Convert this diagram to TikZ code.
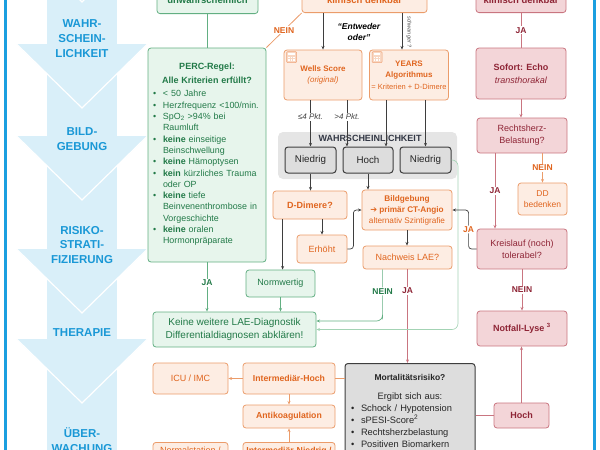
\documentclass[tikz,border=0pt]{standalone}
\usepackage{fontspec}
\setmainfont{Liberation Sans}
\newfontfamily\symfont{DejaVu Sans}
\usetikzlibrary{arrows.meta}

\definecolor{bandblue}{HTML}{D9EFF9}
\definecolor{lineblue}{HTML}{1B9FE0}
\definecolor{phaseblue}{HTML}{1A98D6}
\definecolor{gfill}{HTML}{E7F5EC}
\definecolor{gdraw}{HTML}{62AF82}
\definecolor{gtext}{HTML}{227A48}
\definecolor{glight}{HTML}{A3D3B4}
\definecolor{ofill}{HTML}{FDEDE3}
\definecolor{odraw}{HTML}{EB9C6A}
\definecolor{otext}{HTML}{E0651F}
\definecolor{rfill}{HTML}{F3D5D8}
\definecolor{rdraw}{HTML}{C97580}
\definecolor{rtext}{HTML}{8E2435}
\definecolor{kfill}{HTML}{DDDDDD}
\definecolor{kdraw}{HTML}{3E3E3E}
\definecolor{kregion}{HTML}{E5E5E5}
\definecolor{ktext}{HTML}{333845}
\definecolor{iconc}{HTML}{F0A57A}

% bullet line (single lines only)
\newcommand{\bitem}{\par\noindent\makebox[10pt][l]{\textbullet}}
% small calculator sign in a box corner
\newcommand{\calcicon}[1]{%
  \begin{scope}[shift={([xshift=3pt,yshift=-2pt]#1)}]
    \draw[iconc, fill=iconc!45, rounded corners=1pt, line width=0.5pt] (0,0) rectangle (10,11);
    \fill[white] (1.8,1.6) rectangle (8.2,3.8);
    \foreach \i in {0,1,2} \foreach \j in {0,1}
      \fill[white] (1.8+\i*2.4,5.3+\j*2.4) rectangle ++(1.6,1.5);
  \end{scope}}

\tikzset{
  box/.style={draw, rounded corners=3pt, line width=0.8pt, align=center, inner sep=2pt,
    font=\fontsize{9}{11}\selectfont},
  gbox/.style={box, draw=gdraw, fill=gfill, text=gtext},
  obox/.style={box, draw=odraw, fill=ofill, text=otext},
  rbox/.style={box, draw=rdraw, fill=rfill, text=rtext},
  kbox/.style={box, draw=kdraw, fill=kfill, text=black!85, line width=1pt},
  arr/.style={-{Stealth[length=3.6pt,width=3pt]}, line width=0.7pt},
  kline/.style={arr, draw=kdraw},
  gline/.style={arr, draw=gdraw},
  oline/.style={arr, draw=odraw},
  rline/.style={arr, draw=rdraw},
  yesno/.style={fill=white, inner sep=1pt, font=\fontsize{8.5}{10}\selectfont\bfseries},
  pkt/.style={fill=white, inner sep=1pt, text=black!75, font=\fontsize{8}{10}\selectfont\itshape},
  phase/.style={text=phaseblue, align=center, font=\fontsize{11.5}{14.8}\selectfont\bfseries},
}

\begin{document}
\begin{tikzpicture}[x=1pt, y=-1pt]
  \useasboundingbox (0,0) rectangle (600,450);
  \clip (0,0) rectangle (600,450);

  % phase band on the left
  \fill[bandblue] (47,-20) rectangle (117,470);
  \foreach \tip in {2,108,200,313,403,520}{
    \fill[bandblue] (16.5,\tip-64) -- (147.5,\tip-64) -- (82,\tip) -- cycle;
    \draw[white, line width=1.2pt] (16.5,\tip-64) -- (82,\tip) -- (147.5,\tip-64);
  }
  \draw[lineblue, line width=3pt] (5.5,-10) -- (5.5,460);
  \draw[lineblue, line width=3.5pt] (594.5,-10) -- (594.5,460);

  \node[phase] (ph1) at (82,38.5) {WAHR-\\SCHEIN-\\LICHKEIT};
  \node[phase] (ph2) at (82,139) {BILD-\\GEBUNG};
  \node[phase] (ph3) at (82,245) {RISIKO-\\STRATI-\\FIZIERUNG};
  \node[phase] (ph4) at (82,333) {THERAPIE};
  \node[phase] (ph5) at (82,440) {ÜBER-\\WACHUNG};

  % boxes cut by the upper edge
  \node[gbox, anchor=south, minimum width=101pt, inner ysep=10pt, font=\fontsize{9.5}{11}\selectfont\bfseries] (unw) at (207.5,14) {unwahrscheinlich};
  \node[obox, anchor=south, minimum width=125pt, inner ysep=9pt, font=\fontsize{9.5}{11}\selectfont\bfseries] (kden) at (364.5,13) {klinisch denkbar};
  \node[rbox, anchor=south, minimum width=90pt, inner ysep=9pt, font=\fontsize{9.5}{11}\selectfont\bfseries] (rden) at (521,13) {klinisch denkbar};

  % green column
  \node[gbox, minimum width=118pt, minimum height=214pt, text width=108pt, align=center, font=\fontsize{8.9}{11.3}\selectfont] (perc) at (207,155) {%
    {\bfseries\fontsize{9}{11.3}\selectfont PERC-Regel:\\[2.7pt]Alle Kriterien erfüllt?\par}\vspace{4.7pt}
    \begin{tabular}{@{}p{10pt}@{}p{98pt}@{}}
      \textbullet & < 50 Jahre\\
      \textbullet & Herzfrequenz <100/min.\\
      \textbullet & SpO\textsubscript{2} >94\% bei\\
                  & Raumluft\\
      \textbullet & \textbf{keine} einseitige\\
                  & Beinschwellung\\
      \textbullet & \textbf{keine} Hämoptysen\\
      \textbullet & \textbf{kein} kürzliches Trauma\\
                  & oder OP\\
      \textbullet & \textbf{keine} tiefe\\
                  & Beinvenenthrombose in\\
                  & Vorgeschichte\\
      \textbullet & \textbf{keine} oralen\\
                  & Hormonpräparate
    \end{tabular}};
  \node[gbox, minimum width=69pt, minimum height=27pt] (normw) at (280.5,283.5) {Normwertig};
  \node[gbox, minimum width=163pt, minimum height=35pt, font=\fontsize{10}{13}\selectfont] (keine) at (234.5,329.5) {Keine weitere LAE-Diagnostik\\Differentialdiagnosen abklären!};

  % orange boxes
  \node[obox, minimum width=78pt, minimum height=50pt, font=\fontsize{8}{11}\selectfont] (wells) at (323,75) {\textbf{Wells Score}\\\textit{(original)}};
  \node[obox, minimum width=78pt, minimum height=50pt, font=\fontsize{8}{11.5}\selectfont] (years) at (409,75) {\textbf{YEARS}\\\textbf{Algorithmus}\\{\fontsize{7.5}{9}\selectfont = Kriterien + D-Dimere}};
  \calcicon{wells.north west}
  \calcicon{years.north west}
  \node[obox, minimum width=74pt, minimum height=28pt, font=\fontsize{9}{11}\selectfont\bfseries] (ddim) at (310,205) {D-Dimere?};
  \node[obox, minimum width=50pt, minimum height=28pt] (erh) at (322,249) {Erhöht};
  \node[obox, minimum width=90pt, minimum height=40pt, font=\fontsize{8.2}{11}\selectfont] (bild) at (407,210) {\textbf{Bildgebung}\\\textbf{{\symfont ➔} primär CT-Angio}\\alternativ Szintigrafie};
  \node[obox, minimum width=89pt, minimum height=23pt] (nachw) at (407.5,257.5) {Nachweis LAE?};
  \node[obox, minimum width=49pt, minimum height=32pt, font=\fontsize{8.5}{11}\selectfont] (ddbed) at (542.5,199) {DD\\bedenken};
  \node[obox, minimum width=75pt, minimum height=31pt] (icu) at (190.5,378.5) {ICU / IMC};
  \node[obox, minimum width=92pt, minimum height=31pt, font=\fontsize{8.7}{11}\selectfont\bfseries] (ihoch) at (289,378.5) {Intermediär-Hoch};
  \node[obox, minimum width=92pt, minimum height=23pt, font=\fontsize{8.7}{11}\selectfont\bfseries] (antik) at (289,416.5) {Antikoagulation};
  \node[obox, anchor=north, minimum width=92pt, inner ysep=5pt, font=\fontsize{8.7}{11}\selectfont\bfseries] (iniedr) at (289,442) {Intermediär-Niedrig /};
  \node[obox, anchor=north, minimum width=75pt, inner ysep=5pt] (normst) at (190.5,442) {Normalstation /};

  % red column
  \node[rbox, minimum width=90pt, minimum height=51pt, font=\fontsize{9}{13}\selectfont] (sofort) at (521,73.5) {\textbf{Sofort: Echo}\\\textit{transthorakal}};
  \node[rbox, minimum width=90pt, minimum height=35pt, font=\fontsize{9}{12}\selectfont] (rherz) at (522,135.5) {Rechtsherz-\\Belastung?};
  \node[rbox, minimum width=90pt, minimum height=40pt, font=\fontsize{9}{12}\selectfont] (kreis) at (522,249) {Kreislauf (noch)\\tolerabel?};
  \node[rbox, minimum width=90pt, minimum height=35pt, font=\fontsize{9}{11}\selectfont\bfseries] (lyse) at (522,328.5) {Notfall-Lyse \textsuperscript{3}};
  \node[rbox, minimum width=55pt, minimum height=25pt, font=\fontsize{9}{11}\selectfont\bfseries] (rhoch) at (521.5,415.5) {Hoch};

  % gray boxes
  \node[fill=kregion, rounded corners=5pt, minimum width=179pt, minimum height=47pt] (wgrp) at (367.5,155.5) {};
  \node[text=ktext, font=\fontsize{9}{11}\selectfont\bfseries] (wlbl) at (370,138) {WAHRSCHEINLICHKEIT};
  \node[kbox, minimum width=51pt, minimum height=26pt, font=\fontsize{9.8}{11}\selectfont] (nieda) at (310.5,160) {Niedrig};
  \node[kbox, minimum width=50pt, minimum height=26pt, font=\fontsize{9.8}{11}\selectfont] (hoch) at (368,160) {Hoch};
  \node[kbox, minimum width=51pt, minimum height=26pt, font=\fontsize{9.8}{11}\selectfont] (niedb) at (425.5,160) {Niedrig};
  \node[kbox, anchor=north, text width=118pt, inner xsep=6pt, inner ysep=11pt, font=\fontsize{9.3}{12}\selectfont] (mort) at (410,363) {%
    {\fontsize{8.5}{10}\selectfont\bfseries Mortalitätsrisiko?}\par\vspace{7pt}
    Ergibt sich aus:\par
    {\raggedright
    \bitem Schock / Hypotension
    \bitem sPESI-Score\textsuperscript{2}
    \bitem Rechtsherzbelastung
    \bitem Positiven Biomarkern\par}};

  % connectors, left part
  \draw[gdraw, line width=0.8pt] (unw.south) -- (unw.south |- perc.north);
  \draw[gline] (perc.south) -- node[yesno, text=gtext, pos=.42]{JA} (perc.south |- keine.north);
  \draw[odraw, line width=0.8pt] (kden.south west) -- node[yesno, text=otext]{NEIN} (perc.north east);

  % connectors, scores
  \draw[kline] (wells.north |- kden.south) -- (wells.north);
  \draw[kline] ([xshift=-7pt]years.north |- kden.south) -- ([xshift=-7pt]years.north);
  \node[rotate=-90, inner sep=0pt, text=black!70, font=\fontsize{5.5}{6}\selectfont\itshape] (schw) at (409,32) {schwanger ?};
  \node[align=center, font=\fontsize{8.5}{11}\selectfont\bfseries\itshape] (eo) at (359,32) {“Entweder\\oder”};
  \draw[kline] (wells.south -| nieda.north) -- node[pkt, pos=.36]{≤4 Pkt.} (nieda.north);
  \draw[kline] ([xshift=24pt]wells.south) -- node[pkt, pos=.36]{>4 Pkt.} ([xshift=24pt]wells.south |- hoch.north);
  \draw[kline] ([xshift=-23pt]years.south) -- ([xshift=-23pt]years.south |- hoch.north);
  \draw[kline] (years.south -| niedb.north) -- (niedb.north);

  % connectors, imaging
  \draw[kline] (nieda.south) -- (nieda.south |- ddim.north);
  \draw[kline] (hoch.south) -- (hoch.south |- bild.north);
  \draw[kline] (erh.north |- ddim.south) -- (erh.north);
  \draw[kline, rounded corners=3pt] (erh.east) -- ++(6,0) |- (bild.west);
  \draw[kline] ([xshift=10pt]ddim.south west) -- ([xshift=10pt]ddim.south west |- normw.north);
  \draw[gline] (normw.south) -- (normw.south |- keine.north);
  \draw[kline] (bild.south) -- (bild.south |- nachw.north);
  \draw[gline, rounded corners=6pt] ([xshift=20pt]nachw.south west) -- node[yesno, text=gtext]{NEIN} ++(0,44) |- ([yshift=8.5pt]keine.east);
  \draw[rline] (nachw.south) -- node[yesno, text=rtext, pos=.23]{JA} (nachw.south |- mort.north);
  \draw[glight, line width=0.6pt, -{Stealth[length=3.6pt,width=3pt]}, rounded corners=6pt] (niedb.east) -| (458,329.5) -- (keine.east);

  % connectors, red column
  \draw[rdraw, line width=0.8pt] (rden.south) -- node[yesno, text=rtext]{JA} (rden.south |- sofort.north);
  \draw[rline] (sofort.south) -- (sofort.south |- rherz.north);
  \draw[oline] (ddbed.north |- rherz.south) -- node[yesno, text=otext]{NEIN} (ddbed.north);
  \draw[rline] ([xshift=-27pt]rherz.south) -- node[yesno, text=rtext]{JA} ([xshift=-27pt]kreis.north);
  \draw[kline, rounded corners=3pt] (kreis.west) -- ++(-8,0) coordinate (kj) -- node[yesno, text=otext]{JA} (kj |- bild.east) -- (bild.east);
  \draw[rline] (kreis.south) -- node[yesno, text=rtext]{NEIN} (kreis.south |- lyse.north);
  \draw[rline] (rhoch.north) -- (rhoch.north |- lyse.south);
  \draw[rdraw, line width=0.8pt] (rhoch.west -| mort.east) -- (rhoch.west);

  % connectors, therapy
  \draw[odraw, line width=0.8pt] (ihoch.east -| mort.west) -- (ihoch.east);
  \draw[oline] (ihoch.west) -- (icu.east);
  \draw[oline] (ihoch.south) -- (antik.north);
  \draw[oline] (iniedr.north) -- (antik.south);
\end{tikzpicture}
\end{document}
